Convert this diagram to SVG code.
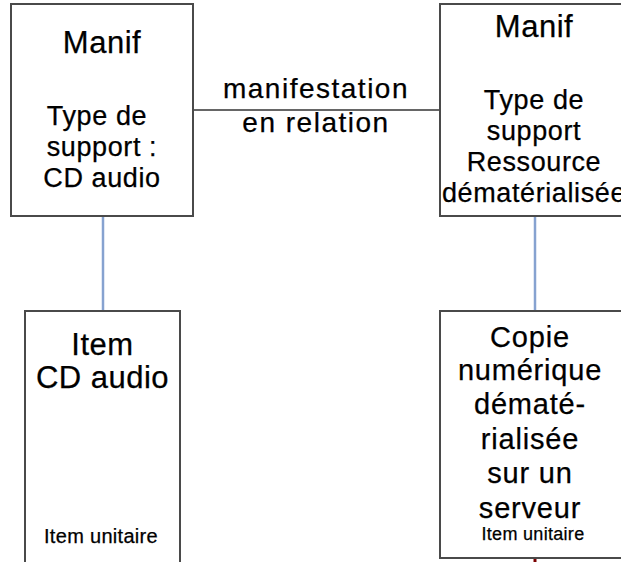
<svg xmlns="http://www.w3.org/2000/svg" width="621" height="562" viewBox="0 0 621 562">
<style>
.box{fill:#fff;stroke:#4a4a4a;stroke-width:2}
text{font-family:"Liberation Sans",Arial,sans-serif;fill:#000;stroke:#000;stroke-width:0.25;text-anchor:middle}
.t31{font-size:31px;letter-spacing:0.5px}
.t27{font-size:27px;letter-spacing:0.6px}
.t29{font-size:29px;letter-spacing:0.8px}
.lbl{font-size:28px;letter-spacing:1.5px}
.blue{stroke:#86a2d0;stroke-width:2.5;fill:none}
</style>
<rect width="621" height="562" fill="#fff"/>
<g id="connectors">
<line x1="193" y1="110" x2="440" y2="110" stroke="#333" stroke-width="1.5"/>
<line class="blue" x1="103" y1="217" x2="103" y2="310"/>
<line class="blue" x1="535" y1="217" x2="535" y2="310"/>
<line x1="535" y1="559" x2="535" y2="562" stroke="#7a0000" stroke-width="3"/>
<text class="lbl" x="316" y="98">manifestation</text>
<text class="lbl" x="316" y="132">en relation</text>
</g>
<g id="manif1">
<rect class="box" x="11" y="4" width="182" height="212"/>
<text class="t31" x="102" y="53">Manif</text>
<text class="t27" x="97" y="125">Type de</text>
<text class="t27" x="102" y="156">support :</text>
<text class="t27" x="102" y="187">CD audio</text>
</g>
<g id="manif2">
<rect class="box" x="440" y="4" width="190" height="212"/>
<text class="t31" x="534" y="37">Manif</text>
<text class="t27" x="534" y="109">Type de</text>
<text class="t27" x="534" y="140">support</text>
<text class="t27" x="534" y="171">Ressource</text>
<text class="t27" x="534" y="202">dématérialisée</text>
</g>
<g id="item1">
<rect class="box" x="25" y="311" width="155" height="260"/>
<text class="t31" x="102.5" y="355">Item</text>
<text class="t31" x="102.5" y="388">CD audio</text>
<text x="101" y="543" font-size="20" letter-spacing="0.3">Item unitaire</text>
</g>
<g id="item2">
<rect class="box" x="440" y="311" width="182" height="247"/>
<text class="t29" x="530" y="347">Copie</text>
<text class="t29" x="530" y="380">numérique</text>
<text class="t29" x="530" y="414">dématé-</text>
<text class="t29" x="530" y="449">rialisée</text>
<text class="t29" x="530" y="483">sur un</text>
<text class="t29" x="530" y="518">serveur</text>
<text x="533" y="540" font-size="18" letter-spacing="0.3">Item unitaire</text>
</g>
</svg>
